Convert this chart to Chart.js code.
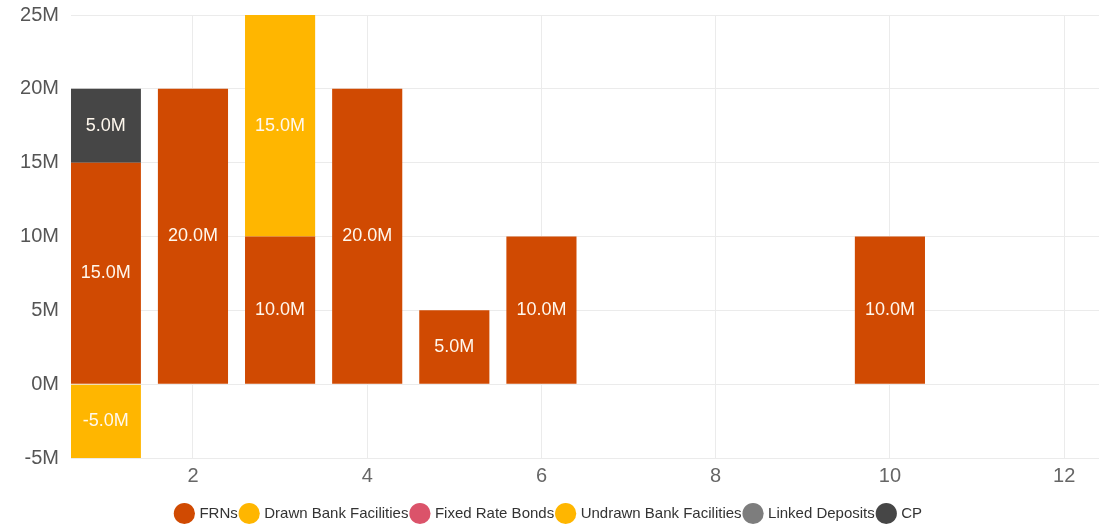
<!DOCTYPE html>
<html>
<head>
<meta charset="utf-8">
<script src="https://cdn.jsdelivr.net/npm/chart.js@4"></script>
<style>
  html, body { margin: 0; padding: 0; background: #fff; overflow: hidden; }
  #wrap { width: 1099px; height: 540px; margin-top: -9px; }
</style>
</head>
<body>
<div id="wrap"><canvas id="chart"></canvas></div>
<script>
// Maturity profile, values in millions, by year
var years = [1, 2, 3, 4, 5, 6, 10];
var frns = [15, 20, 10, 20, 5, 10, 10];
var drawnBank = [-5, null, null, null, null, null, null];
var fixedRateBonds = [null, null, null, null, null, null, null];
var undrawnBank = [null, null, 15, null, null, null, null];
var linkedDeposits = [null, null, null, null, null, null, null];
var cp = [5, null, null, null, null, null, null];

var yTicks = [-5, 0, 5, 10, 15, 20, 25];
var xTicks = [2, 4, 6, 8, 10, 12];

var FONT = '"Liberation Sans", Arial, sans-serif';

var SERIES = [
  { label: 'FRNs', values: frns, color: '#d04a02' },
  { label: 'Drawn Bank Facilities', values: drawnBank, color: '#ffb600' },
  { label: 'Fixed Rate Bonds', values: fixedRateBonds, color: '#db536a' },
  { label: 'Undrawn Bank Facilities', values: undrawnBank, color: '#ffb600' },
  { label: 'Linked Deposits', values: linkedDeposits, color: '#7d7d7d' },
  { label: 'CP', values: cp, color: '#464646' },
];

function toPoints(values) {
  return years.map(function (x, i) { return { x: x, y: values[i] == null ? null : values[i] * 1e6 }; });
}

// draws the "15.0M" style labels in the middle of each segment
var segmentLabels = {
  id: 'segmentLabels',
  afterDatasetsDraw: function (chart) {
    var ctx = chart.ctx;
    ctx.save();
    ctx.fillStyle = '#fff8ee';
    ctx.font = '18px ' + FONT;
    ctx.textAlign = 'center';
    ctx.textBaseline = 'middle';
    chart.data.datasets.forEach(function (ds, di) {
      var meta = chart.getDatasetMeta(di);
      if (meta.hidden) return;
      meta.data.forEach(function (bar, i) {
        var v = ds.data[i].y;
        if (v == null) return;
        var p = bar.getProps(['x', 'y', 'base'], true);
        ctx.fillText((v / 1e6).toFixed(1) + 'M', p.x, (p.y + p.base) / 2);
      });
    });
    ctx.restore();
  },
};

var ctx = document.getElementById('chart').getContext('2d');
new Chart(ctx, {
  type: 'bar',
  data: {
    datasets: SERIES.map(function (s) {
      return {
        label: s.label,
        data: toPoints(s.values),
        backgroundColor: s.color,
        borderWidth: 0,
        barPercentage: 1,
        categoryPercentage: 0.805,
      };
    }),
  },
  plugins: [segmentLabels],
  options: {
    responsive: true,
    maintainAspectRatio: false,
    animation: false,
    layout: { padding: { top: 0, right: 0, left: 0, bottom: 0 } },
    plugins: {
      legend: {
        position: 'bottom',
        labels: {
          color: '#333',
          font: { size: 15, family: FONT },
          usePointStyle: true,
          pointStyle: 'circle',
          boxWidth: 15,
          boxHeight: 15,
          padding: 4,
        },
      },
      tooltip: { enabled: false },
    },
    scales: {
      x: {
        type: 'linear',
        stacked: true,
        min: 0.6,
        max: 12.4,
        offset: false,
        border: { display: false },
        grid: { color: '#ebebeb', drawTicks: false, offset: false },
        afterBuildTicks: function (axis) {
          axis.ticks = xTicks.map(function (v) { return { value: v }; });
        },
        afterFit: function (axis) { axis.height = 44; },
        ticks: {
          color: '#666',
          padding: 6,
          font: { size: 20, family: FONT },
        },
      },
      y: {
        stacked: true,
        min: -5e6,
        max: 25e6,
        border: { display: false },
        grid: { color: '#ebebeb', drawTicks: false },
        afterBuildTicks: function (axis) {
          axis.ticks = yTicks.map(function (v) { return { value: v * 1e6 }; });
        },
        afterFit: function (axis) { axis.width = 71; },
        ticks: {
          color: '#555',
          padding: 12,
          font: { size: 20, family: FONT },
          callback: function (v) { return (v / 1e6) + 'M'; },
        },
      },
    },
  },
});
</script>
</body>
</html>
